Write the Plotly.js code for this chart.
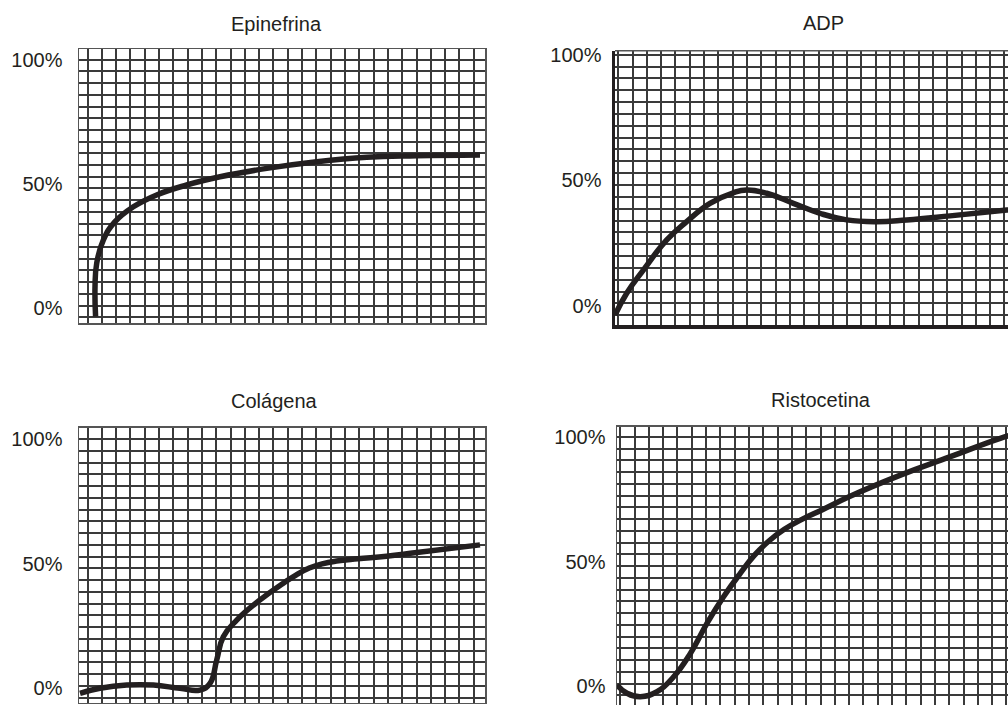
<!DOCTYPE html>
<html>
<head>
<meta charset="utf-8">
<script src="https://cdn.plot.ly/plotly-3.0.1.min.js"></script>
<style>
html,body{margin:0;padding:0;overflow:hidden;background:#fff;}
#chart{width:1030px;height:720px;}
</style>
</head>
<body>
<div id="chart"></div>
<script>
// ---- data (x in grid-cell units of time, y in % aggregation) ----
const titles = ["Epinefrina", "ADP", "Colágena", "Ristocetina"];
const yTickVals = [0, 50, 100];
const yTickText = ["0%", "50%", "100%"];

const epiX = [1.16, 1.12, 1.24, 1.70, 2.52, 3.80, 5.43, 7.53, 9.86, 13.13, 16.62, 20.12, 23.62, 28.04];
const epiY = [-3.5, 8.6, 18.1, 27.4, 34.8, 40.8, 45.6, 49.6, 52.9, 56.3, 59.0, 60.8, 61.4, 61.7];

const adpX = [0.0, 0.82, 1.98, 3.62, 5.01, 6.64, 8.27, 9.21, 10.61, 12.47, 14.34, 16.2, 18.3, 20.4, 23.43, 27.4, 28.4];
const adpY = [-3.6, 5.1, 14.3, 26.3, 33.6, 40.9, 45.1, 46.2, 44.9, 40.9, 36.9, 34.3, 33.6, 34.3, 35.9, 38.2, 38.8];

const colX = [0.07, 1.47, 3.34, 5.2, 7.06, 8.46, 9.16, 9.63, 10.09, 11.03, 12.66, 14.29, 15.2, 16.1, 17.0, 18.0, 19.5, 21.5, 23.62, 28.04];
const colY = [-2.0, 0.0, 1.3, 1.3, 0.0, -0.7, 2.0, 11.4, 20.7, 27.4, 35.5, 42.2, 45.6, 48.3, 50.0, 51.1, 52.0, 53.0, 54.5, 57.6];

const risX = [0.0, 0.70, 1.63, 2.80, 3.96, 5.13, 6.29, 7.45, 8.62, 9.6, 10.6, 11.7, 13.0, 14.4, 16.3, 19.82, 23.31, 26.8, 28.3];
const risY = [0.4, -2.9, -4.3, -2.3, 3.7, 13.1, 25.2, 35.9, 45.3, 52.5, 58.2, 63.0, 67.2, 71.0, 76.3, 84.8, 92.2, 99.6, 102.0];

// ---- layout helpers ----
const W = 1030, H = 720;
const INK = "#231f20";
const GRID = "#3a3a3a";
const FONT = {family: "Liberation Sans, Arial, sans-serif", size: 20, color: INK};
function dX(a, b) { return [a / W, b / W]; }
function dY(top, bottom) { return [1 - bottom / H, 1 - top / H]; }

function xAxis(dom, anchor, x0, opts) {
  return Object.assign({
    domain: dom, anchor: anchor, range: [0, 28.39],
    showticklabels: false, ticks: "", showgrid: false, zeroline: false,
    tickmode: "array", tickvals: [],
    showline: true, linecolor: "#555", linewidth: 1.5, mirror: true,
    minor: {tickmode: "linear", tick0: x0, dtick: 1, showgrid: true, gridcolor: GRID, gridwidth: 2, ticks: ""},
    fixedrange: true
  }, opts || {});
}
function yAxis(dom, anchor, range, y0, standoff, opts) {
  return Object.assign({
    domain: dom, anchor: anchor, range: range,
    tickmode: "array", tickvals: yTickVals, ticktext: yTickText,
    ticks: "", showgrid: false, zeroline: false, ticklabelstandoff: standoff,
    tickfont: FONT,
    showline: true, linecolor: "#555", linewidth: 1.5, mirror: true,
    minor: {tickmode: "linear", tick0: y0, dtick: 4.72, showgrid: true, gridcolor: GRID, gridwidth: 2, ticks: ""},
    fixedrange: true
  }, opts || {});
}

const lineStyle = {color: INK, width: 5.5, shape: "spline", smoothing: 1.3};
const traces = [
  {x: epiX, y: epiY, xaxis: "x", yaxis: "y", mode: "lines", line: lineStyle, hoverinfo: "skip"},
  {x: adpX, y: adpY, xaxis: "x2", yaxis: "y2", mode: "lines", line: lineStyle, hoverinfo: "skip"},
  {x: colX, y: colY, xaxis: "x3", yaxis: "y3", mode: "lines", line: lineStyle, hoverinfo: "skip"},
  {x: risX, y: risY, xaxis: "x4", yaxis: "y4", mode: "lines", line: lineStyle, hoverinfo: "skip"}
];

const titlePos = [[276, 24], [823, 23], [274, 401], [821, 400]];
const annotations = titles.map((t, i) => ({
  text: t, xref: "paper", yref: "paper",
  x: titlePos[i][0] / W, y: 1 - titlePos[i][1] / H,
  xanchor: "center", yanchor: "middle", showarrow: false,
  font: {family: FONT.family, size: 20, color: INK}
}));

const layout = {
  width: W, height: H,
  margin: {l: 0, r: 0, t: 0, b: 0},
  paper_bgcolor: "#fff", plot_bgcolor: "#fff",
  showlegend: false,
  xaxis: xAxis(dX(79, 485), "y", 0.6),
  yaxis: yAxis(dY(49, 323), "x", [-6.05, 104.44], 1.0, 11),
  xaxis2: xAxis(dX(615, 1021), "y2", 0.23, {linecolor: INK, linewidth: 3.5, mirror: false}),
  yaxis2: yAxis(dY(50.7, 325), "x2", [-7.57, 101.7], 1.0, 6, {linecolor: INK, linewidth: 3.5, mirror: false}),
  xaxis3: xAxis(dX(79, 485), "y3", 0.6),
  yaxis3: yAxis(dY(427.7, 702.7), "x3", [-5.78, 104.66], 1.0, 11),
  xaxis4: xAxis(dX(617, 1023), "y4", 0.23),
  yaxis4: yAxis(dY(426.7, 708), "x4", [-8.85, 104.26], 1.0, 6),
  shapes: [
    {type: "line", xref: "x2 domain", yref: "y2 domain", x0: 0, x1: 1, y0: 1, y1: 1, line: {color: "#555", width: 1.5}}
  ],
  annotations: annotations
};

Plotly.newPlot("chart", traces, layout, {displayModeBar: false, staticPlot: true});
</script>
</body>
</html>
